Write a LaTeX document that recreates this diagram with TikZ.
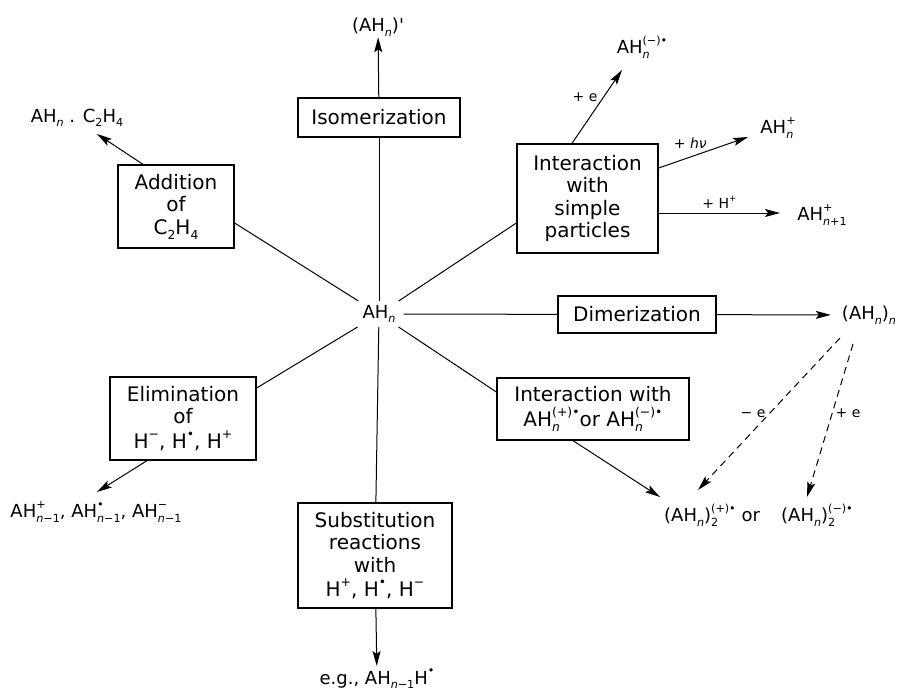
\documentclass[tikz,border=0pt]{standalone}
\usepackage{fontspec}
\setmainfont{DejaVu Sans}
\usetikzlibrary{arrows.meta,calc}
\makeatletter
\newcommand\chsmall{\fontsize{\fpeval{0.62*\f@size}}{\fpeval{0.62*\f@size}}\selectfont}
\makeatother
\newcommand\chdn[1]{\raisebox{-0.45ex}{\chsmall #1}}
\newcommand\chup[1]{\raisebox{0.95ex}{\chsmall #1}}
\newcommand\chud[2]{\setbox0=\hbox{\chup{#1}}\setbox2=\hbox{\chdn{#2}}\ifdim\wd0>\wd2 \rlap{\box2}\box0\else\rlap{\box0}\box2\fi}
\tikzset{
 box/.style={draw, line width=1.3pt, align=center, inner sep=0pt, font=\fontsize{20}{22.5}\selectfont},
 prod/.style={inner sep=1pt, font=\fontsize{18}{20}\selectfont},
 lbl/.style={inner sep=0pt, font=\fontsize{14}{16}\selectfont},
 ln/.style={line width=1pt},
 arr/.style={line width=1pt, -{Stealth[length=15pt,width=8pt,inset=3pt]}},
 darr/.style={arr, dash pattern=on 7pt off 5pt},
}
\begin{document}
\begin{tikzpicture}[x=1pt,y=-1pt]
\useasboundingbox (0,0) rectangle (900,693);
\node[inner xsep=8pt, inner ysep=4pt, font=\fontsize{18}{20}\selectfont] (ah) at (379,314) {AH\chdn{\textit{n}}};
% boxes
\node[box, minimum width=162pt, minimum height=39pt] (iso) at (379,117.5) {Isomerization};
\node[box, minimum width=141pt, minimum height=109pt] (isp) at (587.5,198.5) {Interaction\\with\\simple\\particles};
\node[box, minimum width=116pt, minimum height=83pt] (adds) at (176,206.5) {Addition\\of\\C\chdn{2}H\chdn{4}};
\node[box, minimum width=158pt, minimum height=37pt] (dim) at (637,314.5) {Dimerization};
\node[box, minimum width=192pt, minimum height=62pt] (ahint) at (593,409) {Interaction with\\[3pt]AH\chud{(+)•}{\textit{n}}or AH\chud{(−)•}{\textit{n}}};
\node[box, minimum width=146pt, minimum height=83pt] (elim) at (183,418.5) {Elimination\\of\\[2pt]H\chup{−}, H\chup{•}, H\chup{+}};
\node[box, minimum width=154pt, minimum height=105pt] (sub) at (375,555.5) {Substitution\\reactions\\with\\[2pt]H\chup{+}, H\chup{•}, H\chup{−}};
% products
\node[prod] (isop) at (378,27) {(AH\chdn{\textit{n}})\textquotesingle};
\node[prod] (addp) at (77,118) {AH\chdn{\textit{n}} . C\chdn{2}H\chdn{4}};
\node[prod] (radm) at (642,47) {AH\chud{(−)•}{\textit{n}}};
\node[prod] (cat) at (778,128) {AH\chud{+}{\textit{n}}};
\node[prod] (prot) at (822,215) {AH\chud{+}{\textit{n}+1}};
\node[prod] (dimer) at (869,315) {(AH\chdn{\textit{n}})\chdn{\textit{n}}};
\node[prod, anchor=west] (dimA) at (663,515) {(AH\chdn{\textit{n}})\chud{(+)•}{2}\ or};
\node[prod, anchor=west] (dimB) at (780,515) {(AH\chdn{\textit{n}})\chud{(−)•}{2}};
\node[prod] (elimp) at (96,512) {AH\chud{+}{\textit{n}−1}, AH\chud{•}{\textit{n}−1}, AH\chud{−}{\textit{n}−1}};
\node[prod] (eg) at (377,679) {e.g., AH\chdn{\textit{n}−1}H\chup{•}};
% spokes
\draw[ln] (ah) -- (iso);
\draw[ln] (ah) -- ($(isp.west)+(0,24.5)$);
\draw[ln] (ah) -- ($(adds.east)+(0,16.5)$);
\draw[ln] (ah) -- (dim);
\draw[ln] (ah) -- ($(ahint.west)+(0,-17)$);
\draw[ln] (ah) -- ($(elim.east)+(0,-30.5)$);
\draw[ln] (ah) -- (sub);
% arrows
\draw[arr] (iso) -- (isop);
\draw[arr, shorten >=10pt] (dim) -- (dimer);
\draw[arr, shorten >=2pt] (sub) -- (eg);
\draw[arr] ($(adds.north)+(-33,0)$) -- ($(addp.center)+(20,16)$);
\draw[arr] ($(elim.south)+(-36,0)$) -- ($(elimp.center)+(1,-20)$);
\draw[arr] ($(isp.north)+(-15.5,0)$) -- node[lbl, xshift=-12pt, yshift=9pt]{+ e} ($(radm.center)+(-20,23)$);
\draw[arr] ($(isp.east)+(0,-30.5)$) -- node[lbl, xshift=-13pt, yshift=9.5pt]{+ \textit{hν}} ($(cat.center)+(-30,9)$);
\draw[arr] ($(isp.east)+(0,14.5)$) -- node[lbl, yshift=11pt]{+ H\chup{+}} ($(prot.center)+(-42,-2)$);
\draw[arr] ($(ahint.south)+(-20,0)$) -- ($(dimA.west)+(-3,-18)$);
\draw[darr] ($(dimer.center)+(-29,23)$) -- node[lbl, xshift=-16pt]{− e} ($(dimA.west)+(35,-25)$);
\draw[darr] ($(dimer.center)+(-16,29)$) -- node[lbl, xshift=18pt, yshift=7pt]{+ e} ($(dimB.west)+(27,-18)$);
\end{tikzpicture}
\end{document}
